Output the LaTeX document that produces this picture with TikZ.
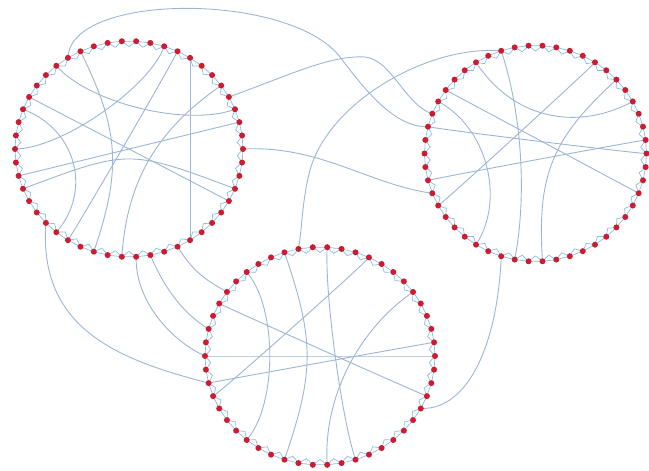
\documentclass[tikz,border=0pt]{standalone}
\usetikzlibrary{calc}
\pgfdeclarelayer{bg}
\pgfsetlayers{bg,main}
\definecolor{dotred}{RGB}{205,28,48}
\definecolor{edgeblue}{RGB}{158,182,214}
\definecolor{ringblue}{RGB}{140,190,228}
\tikzset{
  dot/.style={circle,fill=dotred,draw=none,inner sep=0pt,minimum size=6pt},
  chordline/.style={draw=edgeblue,line width=0.9pt},
  ringline/.style={draw=ringblue,line width=0.7pt},
  linkline/.style={draw=edgeblue,line width=0.9pt}
}
\newcommand\ringcircle[5]{%
  \coordinate (#1c) at (#2,#3);
  \pgfmathsetmacro\rxo{#4}\pgfmathsetmacro\ryo{#5}%
  \pgfmathsetmacro\rxi{#4-5.5}\pgfmathsetmacro\ryi{#5-5.5}%
  \foreach \i [evaluate=\i as \a using \i*7.2] in {0,...,49}{%
    \node[dot] (#1\i) at ($(#1c)+(\a:\rxo\space and \ryo)$) {};
    \coordinate (#1r\i) at ($(#1c)+(\a+3.6:\rxi\space and \ryi)$);
  }
  \begin{pgfonlayer}{bg}
  \foreach \i [evaluate=\i as \j using {int(mod(\i+1,50))}] in {0,...,49}{%
    \draw[ringline] (#1\i.center) -- (#1r\i) -- (#1\j.center) -- cycle;
  }
  \end{pgfonlayer}
}
\newcommand\chords[2]{%
  \begin{pgfonlayer}{bg}
  \foreach \p/\q/\t in {#2}{%
    \draw[chordline] (#1\p.center) .. controls ($(#1\p.center)!\t!(#1c)$) and ($(#1\q.center)!\t!(#1c)$) .. (#1\q.center);
  }
  \end{pgfonlayer}
}
\begin{document}
\begin{tikzpicture}[x=1pt,y=-1pt]
\begin{pgfonlayer}{bg}
\fill[white] (0,0) rectangle (649,471);
\end{pgfonlayer}
\useasboundingbox (0,0) rectangle (649,471);
\ringcircle{A}{129}{149}{114}{108}
\ringcircle{B}{535.5}{153.5}{111}{108}
\ringcircle{C}{320}{356}{115}{109}
\chords{A}{29/4/0, 23/48/0.05, 22/3/1, 42/8/0, 34/15/0.8, 41/17/0.2, 40/25/0.4, 32/47/0.45, 28/18/0.5, 45/13/0.7}
\chords{B}{30/3/0, 27/0/0.1, 23/49/0.1, 42/21/0.05, 35/14/0.6, 12/44/0.8, 29/17/0.5, 33/46/0.6}
\chords{C}{29/3/0.1, 25/0/0.05, 23/49/0.05, 41/22/0.05, 35/15/0.85, 38/10/0.4, 32/18/0.42, 45/12/0.6}
\coordinate (k1) at (340,57);
\coordinate (k2) at (365,57);
\coordinate (k3) at (310,170);
\begin{pgfonlayer}{bg}
\draw[linkline] (A33.center) .. controls (70,-8) and (290,-8) .. (k1) .. controls (365,90) and (395,128) .. (B27.center);
\draw[linkline] (A46.center) .. controls (290,75) and (330,55) .. (k2) .. controls (392,60) and (405,105) .. (B28.center);
\draw[linkline] (B35.center) .. controls (430,45) and (330,100) .. (k3) .. controls (302,200) and (302,230) .. (C36.center);
\draw[linkline] (A0.center) .. controls (320,145) and (370,185) .. (B22.center);
\draw[linkline] (B15.center) .. controls (498,340) and (470,410) .. (C4.center);
\draw[linkline] (A19.center) .. controls (38,330) and (120,360) .. (C23.center);
\draw[linkline] (A12.center) .. controls (135,300) and (170,340) .. (C25.center);
\draw[linkline] (A11.center) .. controls (165,290) and (185,315) .. (C27.center);
\draw[linkline] (A9.center) .. controls (195,275) and (210,282) .. (C30.center);
\end{pgfonlayer}
\end{tikzpicture}
\end{document}
